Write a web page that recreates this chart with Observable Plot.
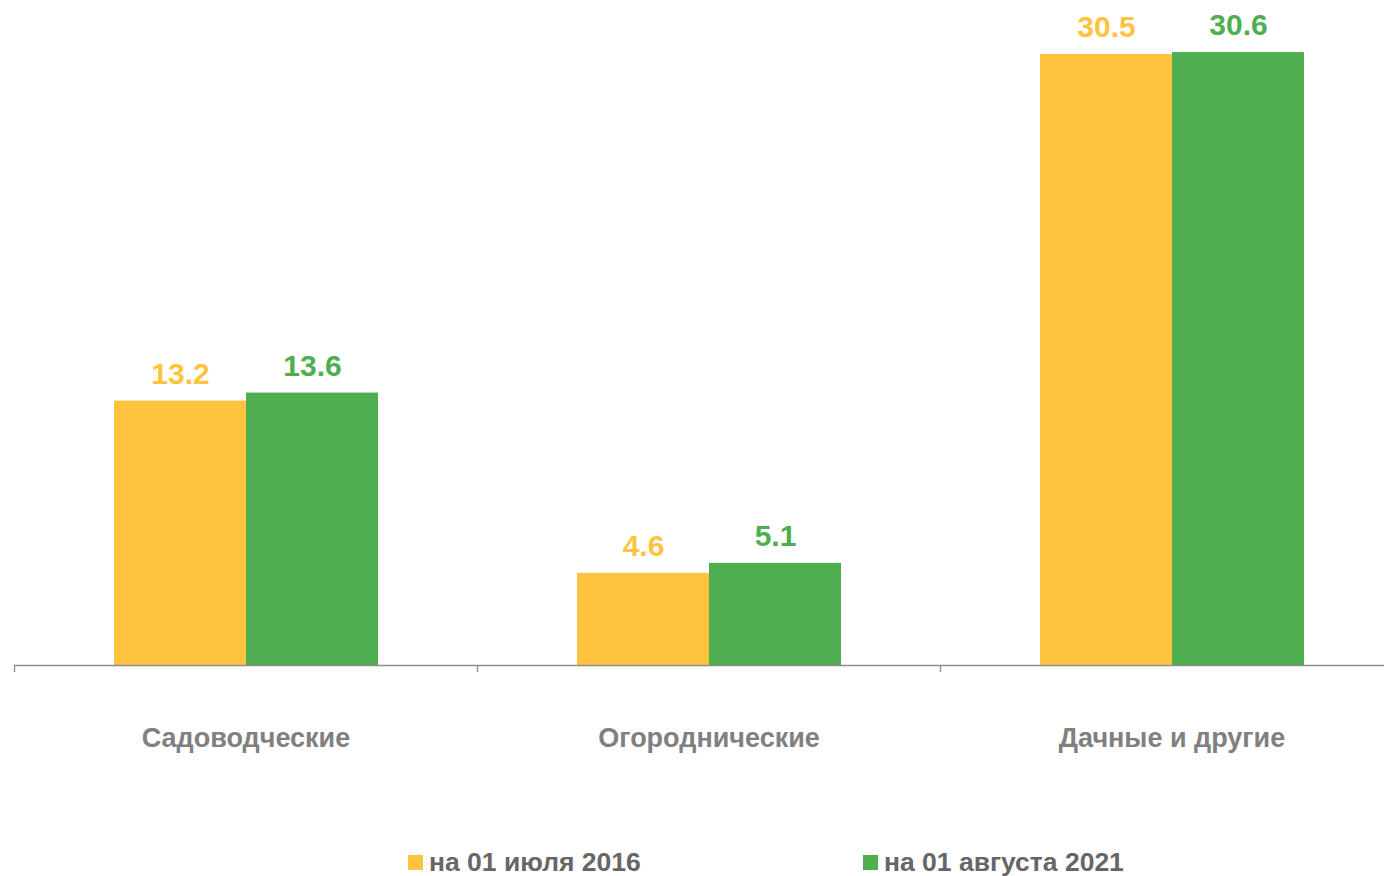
<!DOCTYPE html>
<html>
<head>
<meta charset="utf-8">
<script src="https://cdn.jsdelivr.net/npm/d3@7"></script>
<script src="https://cdn.jsdelivr.net/npm/@observablehq/plot@0.6"></script>
<style>
  html, body { margin: 0; padding: 0; background: #fff; overflow: hidden; width: 1384px; height: 876px; }
  #chart { position: relative; width: 1384px; overflow: hidden; height: 800px; }
  #legend { position: relative; height: 40px; font-family: "Liberation Sans", Arial, sans-serif; font-weight: bold; font-size: 26.5px; color: #666666; }
  .item { position: absolute; top: 0; display: flex; align-items: center; white-space: nowrap; }
  .sw { width: 15px; height: 15px; margin-right: 6px; }
</style>
</head>
<body>
<div id="chart"></div>
<div id="legend"></div>
<script>
const categories = ["Садоводческие", "Огороднические", "Дачные и другие"];
const seriesNames = ["на 01 июля 2016", "на 01 августа 2021"];
const values2016 = [13.2, 4.6, 30.5];
const values2021 = [13.6, 5.1, 30.6];
const colors = ["#FFC340", "#4FAF50"];

const data = [];
categories.forEach((c, i) => {
  data.push({cat: c, series: seriesNames[0], value: values2016[i]});
  data.push({cat: c, series: seriesNames[1], value: values2021[i]});
});

const W = 1403, ML = 14;
const band = (W - ML) / categories.length;

const chart = Plot.plot({
  width: W,
  height: 800,
  marginLeft: ML,
  marginRight: 0,
  marginTop: 24,
  marginBottom: 135,
  style: {fontFamily: "'Liberation Sans', Arial, sans-serif", background: "#fff", overflow: "visible", maxWidth: "none"},
  fx: {domain: categories, padding: 0, axis: null, label: null},
  x: {domain: seriesNames, paddingInner: 0, paddingOuter: 0.744, axis: null, label: null},
  y: {domain: [0, 32], axis: null, label: null},
  color: {domain: seriesNames, range: colors},
  marks: [
    Plot.barY(data, {fx: "cat", x: "series", y: "value", fill: "series"}),
    Plot.ruleY([0], {stroke: "#8c8c8c", strokeWidth: 1.3}),
    Plot.text(data, {fx: "cat", x: "series", y: "value", text: d => d.value.toFixed(1), fill: "series", dy: -27, fontSize: 30, fontWeight: "bold"}),
    Plot.axisFx({anchor: "bottom", tickSize: 7, dx: -band / 2, tickFormat: () => "", stroke: "#8c8c8c", strokeWidth: 1.3, label: null}),
    Plot.axisFx({anchor: "bottom", tickSize: 0, tickPadding: 62, fontSize: 27, fontWeight: "bold", fill: "#808080", label: null})
  ]
});
document.getElementById("chart").appendChild(chart);

const legend = document.getElementById("legend");
const lefts = [408, 863];
seriesNames.forEach((s, i) => {
  const it = document.createElement("div");
  it.className = "item";
  it.style.left = lefts[i] + "px";
  it.style.top = "47px";
  const sw = document.createElement("div");
  sw.className = "sw";
  sw.style.background = colors[i];
  const t = document.createElement("span");
  t.textContent = s;
  it.appendChild(sw); it.appendChild(t);
  legend.appendChild(it);
});
</script>
</body>
</html>
